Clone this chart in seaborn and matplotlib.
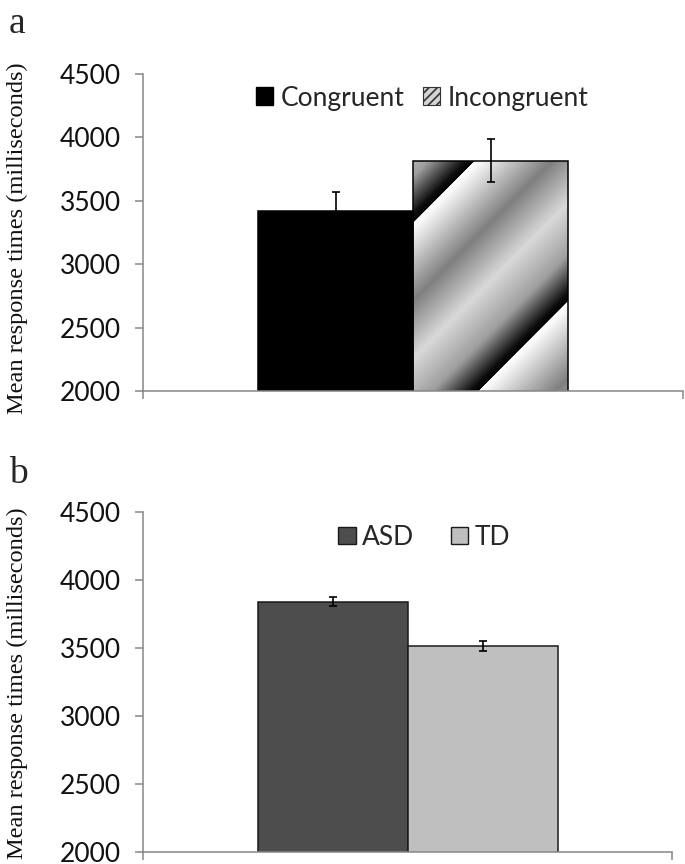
import numpy as np
import pandas as pd
import matplotlib
matplotlib.use("Agg")
import matplotlib.pyplot as plt
import seaborn as sns
from matplotlib.patches import Patch

# ---- data ----
cond_labels = ["Congruent", "Incongruent"]
cond_means = [3421, 3817]
cond_errs = [152, 168]
group_labels = ["ASD", "TD"]
group_means = [3841, 3512]
group_errs = [33, 36]
y_ticks = [2000, 2500, 3000, 3500, 4000, 4500]
y_label = "Mean response times (milliseconds)"
panel_letters = ["a", "b"]

sns.set_theme(style="white")
plt.rcParams["font.family"] = ["Lato", "DejaVu Sans"]
plt.rcParams["hatch.linewidth"] = 1.2

AX_GRAY = "#868686"
SERIF = ["Liberation Serif", "DejaVu Serif"]
FS = 19

fig = plt.figure(figsize=(6.85, 8.64), dpi=100)
axA = fig.add_axes([0.2088, 0.5475, 0.7883, 0.3669])
axB = fig.add_axes([0.2088, 0.0139, 0.7723, 0.3935])


def style_axis(ax, label_x, label_y):
    ax.set_xlim(-0.5, 0.5)
    ax.set_ylim(y_ticks[0], y_ticks[-1])
    ax.set_yticks(y_ticks)
    ax.set_yticklabels([str(t) for t in y_ticks])
    ax.set_xticks([-0.5, 0.5])
    ax.set_xticklabels([])
    ax.set_xlabel("")
    for s in ["top", "right"]:
        ax.spines[s].set_visible(False)
    for s in ["left", "bottom"]:
        ax.spines[s].set_color(AX_GRAY)
        ax.spines[s].set_linewidth(1.1)
    ax.tick_params(axis="y", left=True, direction="out", length=6, width=1.1,
                   color=AX_GRAY, pad=10, labelsize=FS, labelcolor="#111111")
    ax.tick_params(axis="x", bottom=True, direction="out", length=6, width=1.1,
                   color=AX_GRAY)
    ax.set_ylabel(y_label, family=SERIF, fontsize=17.6, color="#111111")
    ax.yaxis.set_label_coords(label_x, label_y)


def add_errorbars(ax, means, errs, capsize):
    for p, m, e in zip(ax.patches, means, errs):
        cx = p.get_x() + p.get_width() / 2
        ax.errorbar(cx, p.get_height(), yerr=e, fmt="none", ecolor="black",
                    elinewidth=1.2, capsize=capsize, capthick=1.2, zorder=4)


def gradient_fill(ax, patch):
    (x0, y0), (x1, y1) = patch.get_bbox().get_points()
    ybot = max(y0, ax.get_ylim()[0])
    px0, py0 = ax.transData.transform((x0, ybot))
    px1, py1 = ax.transData.transform((x1, y1))
    W = int(round(px1 - px0))
    H = int(round(py1 - py0))
    cols, rows = np.meshgrid(np.arange(W), np.arange(H))
    u = cols + rows
    t = ((u - 62) / 233.0) % 1.0
    vals = np.interp(t, [0.0, 0.04, 0.33, 0.58, 0.8, 0.96, 1.0],
                     [1.0, 0.95, 0.5, 0.85, 0.62, 0.06, 0.0])
    im = ax.imshow(vals, cmap="gray", vmin=0, vmax=1, extent=(x0, x1, ybot, y1),
                   aspect="auto", origin="upper", interpolation="bilinear", zorder=0.9)
    im.set_clip_path(patch)
    patch.set_facecolor("none")


# ---- panel a ----
dfA = pd.DataFrame({"x": [""] * len(cond_labels), "cond": cond_labels, "rt": cond_means})
sns.barplot(data=dfA, x="x", y="rt", hue="cond", hue_order=cond_labels,
            palette=["black", "#cccccc"], width=0.574, saturation=1,
            edgecolor="black", linewidth=1.1, errorbar=None, legend=False, ax=axA)
style_axis(axA, -0.213, 0.483)
gradient_fill(axA, axA.patches[1])
style_axis(axA, -0.213, 0.483)
add_errorbars(axA, cond_means, cond_errs, 3)

handlesA = [Patch(facecolor="black", edgecolor="black"),
            Patch(facecolor="#d4d4d4", edgecolor="#333333", hatch="////", linewidth=0.8)]
axA.legend(handlesA, cond_labels, loc="center", bbox_to_anchor=(0.517, 0.924),
           ncol=2, frameon=False, fontsize=FS, handlelength=0.65, handleheight=0.65,
           handletextpad=0.3, columnspacing=0.7)

# ---- panel b ----
dfB = pd.DataFrame({"x": [""] * len(group_labels), "grp": group_labels, "rt": group_means})
sns.barplot(data=dfB, x="x", y="rt", hue="grp", hue_order=group_labels,
            palette=["#4d4d4d", "#bfbfbf"], width=0.567, saturation=1,
            edgecolor="#1a1a1a", linewidth=1.1, errorbar=None, legend=False, ax=axB)
style_axis(axB, -0.217, 0.497)
add_errorbars(axB, group_means, group_errs, 3)

handlesB = [Patch(facecolor="#4d4d4d", edgecolor="#1a1a1a"),
            Patch(facecolor="#bfbfbf", edgecolor="#1a1a1a")]
axB.legend(handlesB, group_labels, loc="center", bbox_to_anchor=(0.532, 0.926),
           ncol=2, frameon=False, fontsize=FS, handlelength=0.65, handleheight=0.65,
           handletextpad=0.25, columnspacing=1.4)

# ---- panel letters ----
fig.text(9 / 685, 1 - 33 / 864, panel_letters[0], family=SERIF, fontsize=27, va="baseline")
fig.text(9 / 685, 1 - 483 / 864, panel_letters[1], family=SERIF, fontsize=27, va="baseline")

fig.savefig("out.png", dpi=100)
